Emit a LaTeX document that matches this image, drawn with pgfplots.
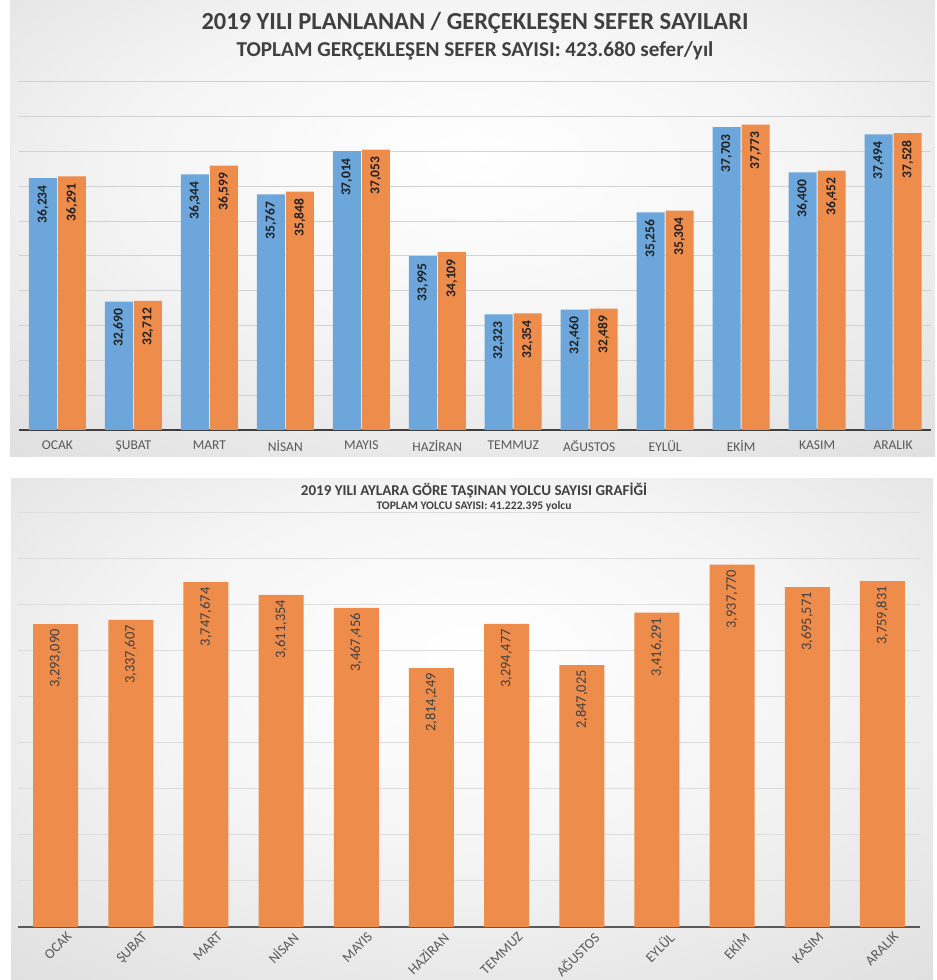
\documentclass[border=0pt]{standalone}
\usepackage{pgfplots}
\pgfplotsset{compat=1.18}
\usepackage{fontspec}
\setmainfont{Carlito}
\definecolor{cblue}{HTML}{6CA6DB}
\definecolor{corange}{HTML}{EE8C4B}
\definecolor{ttl}{HTML}{404040}
\definecolor{tickc}{HTML}{595959}
\definecolor{gridc}{HTML}{D2D2D2}
\pgfdeclareradialshading{panel}{\pgfpoint{0bp}{8bp}}{color(0bp)=(white); color(18bp)=(white!96!black); color(45bp)=(black!15); color(75bp)=(black!24)}
\begin{document}
\begin{tikzpicture}
\path[fill=white, use as bounding box] (0pt,0pt) rectangle (937pt,980pt);
\shade[shading=panel] (10pt,523pt) rectangle (935pt,980pt);
\shade[shading=panel] (11pt,0pt) rectangle (933pt,501pt);
\node[font=\fontsize{24.5}{24.5}\selectfont\bfseries, text=ttl] at (475pt,957pt) {2019 YILI PLANLANAN / GERÇEKLEŞEN SEFER SAYILARI};
\node[font=\fontsize{21.2}{21.2}\selectfont\bfseries, text=ttl] at (475pt,929pt) {TOPLAM GERÇEKLEŞEN SEFER SAYISI: 423.680 sefer/yıl};
\node[font=\fontsize{15}{15}\selectfont\bfseries, text=ttl] at (474pt,490pt) {2019 YILI AYLARA GÖRE TAŞINAN YOLCU SAYISI GRAFİĞİ};
\node[font=\fontsize{11.6}{11.6}\selectfont\bfseries, text=ttl] at (474pt,474pt) {TOPLAM YOLCU SAYISI: 41.222.395 yolcu};

\begin{axis}[
  at={(19.5pt,550pt)}, anchor=south west, scale only axis,
  width=911.5pt, height=348pt,
  ybar=1pt, bar width=28pt,
  xmin=-0.5, xmax=11.5, ymin=29000, ymax=39000,
  axis x line*=bottom, axis y line*=left,
  x axis line style={draw=ttl, line width=1.5pt},
  y axis line style={draw=none},
  ytick={29000,30000,...,39000}, yticklabels={}, scaled y ticks=false, ymajorgrids,
  major grid style={draw=gridc, line width=1pt},
  major tick length=0pt,
  xtick={0,...,11},
  xticklabels={OCAK,ŞUBAT,MART,NİSAN,MAYIS,HAZİRAN,TEMMUZ,AĞUSTOS,EYLÜL,EKİM,KASIM,ARALIK},
  xticklabel style={font=\fontsize{13.5}{13.5}\selectfont, text=tickc, yshift=-7pt},
  nodes near coords, point meta=explicit symbolic,
  every node near coord/.append style={rotate=90, anchor=east, inner xsep=7pt,
     font=\fontsize{13.5}{13.5}\selectfont\bfseries, text=black!88},
  clip=false,
]
\addplot[fill=cblue, draw=none] coordinates {
 (0,36234)[36,234] (1,32690)[32,690] (2,36344)[36,344] (3,35767)[35,767]
 (4,37014)[37,014] (5,33995)[33,995] (6,32323)[32,323] (7,32460)[32,460]
 (8,35256)[35,256] (9,37703)[37,703] (10,36400)[36,400] (11,37494)[37,494]};
\addplot[fill=corange, draw=none] coordinates {
 (0,36291)[36,291] (1,32712)[32,712] (2,36599)[36,599] (3,35848)[35,848]
 (4,37053)[37,053] (5,34109)[34,109] (6,32354)[32,354] (7,32489)[32,489]
 (8,35304)[35,304] (9,37773)[37,773] (10,36452)[36,452] (11,37528)[37,528]};
\end{axis}

\begin{axis}[
  at={(18pt,53pt)}, anchor=south west, scale only axis,
  width=902pt, height=414pt,
  ybar, bar width=45pt,
  xmin=-0.5, xmax=11.5, ymin=0, ymax=4500000,
  axis x line*=bottom, axis y line*=left,
  x axis line style={draw=tickc, line width=1.5pt},
  y axis line style={draw=none},
  ytick={0,500000,...,4500000}, yticklabels={}, scaled y ticks=false, ymajorgrids,
  major grid style={draw=gridc!75, line width=1pt},
  major tick length=0pt,
  xtick={0,...,11},
  xticklabels={OCAK,ŞUBAT,MART,NİSAN,MAYIS,HAZİRAN,TEMMUZ,AĞUSTOS,EYLÜL,EKİM,KASIM,ARALIK},
  xticklabel style={font=\fontsize{14}{14}\selectfont, text=tickc, rotate=45, anchor=north east, xshift=8pt, yshift=-7pt},
  nodes near coords, point meta=explicit symbolic,
  every node near coord/.append style={rotate=90, anchor=east, inner xsep=5pt,
     font=\fontsize{14.5}{14.5}\selectfont, text=ttl},
  clip=false,
]
\addplot[fill=corange, draw=none] coordinates {
 (0,3293090)[3,293,090] (1,3337607)[3,337,607] (2,3747674)[3,747,674] (3,3611354)[3,611,354]
 (4,3467456)[3,467,456] (5,2814249)[2,814,249] (6,3294477)[3,294,477] (7,2847025)[2,847,025]
 (8,3416291)[3,416,291] (9,3937770)[3,937,770] (10,3695571)[3,695,571] (11,3759831)[3,759,831]};
\end{axis}
\end{tikzpicture}
\end{document}
